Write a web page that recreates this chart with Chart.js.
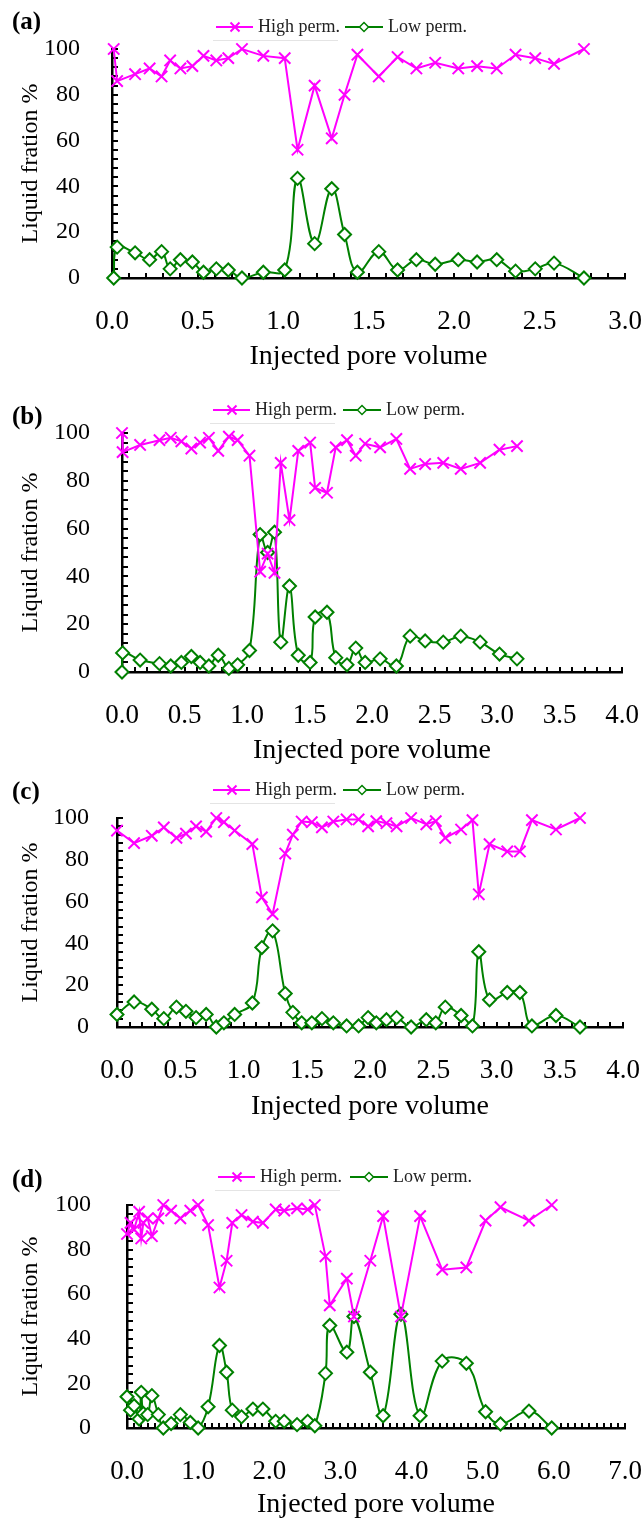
<!DOCTYPE html>
<html>
<head>
<meta charset="utf-8">
<title>Liquid fraction vs injected pore volume</title>
<script src="https://cdn.jsdelivr.net/npm/chart.js@4.4.1/dist/chart.umd.min.js"></script>
<style>
  body { margin: 0; background: #fff; }
  #wrap { position: relative; width: 641px; height: 1520px; overflow: hidden; }
  #wrap canvas { position: absolute; left: 0; }
</style>
</head>
<body>
<div id="wrap">
  <canvas id="cA"></canvas>
  <canvas id="cB"></canvas>
  <canvas id="cC"></canvas>
  <canvas id="cD"></canvas>
</div>
<script>
// --- data ---
const seriesNames = ['High perm.', 'Low perm.'];
const yTitle = 'Liquid fration %';
const xTitle = 'Injected pore volume';
const yTickLabels = [0, 20, 40, 60, 80, 100];

// (a)
const xA = [0.01, 0.03, 0.135, 0.22, 0.29, 0.34, 0.40, 0.47, 0.535, 0.61,
            0.68, 0.76, 0.885, 1.01, 1.085, 1.185, 1.285, 1.36, 1.435, 1.56,
            1.67, 1.78, 1.89, 2.025, 2.135, 2.25, 2.36, 2.475, 2.585, 2.76];
const highA = [100, 86, 89, 91.5, 88, 95, 91.5, 92.5, 97, 95,
               96, 100, 97, 96, 56, 84, 61, 80, 97.5, 88,
               96.5, 91.5, 94, 91.5, 92.5, 91.5, 97.5, 96, 93.5, 100];
const lowA = [0, 13.5, 11, 8, 11.5, 4, 8, 7, 2.5, 4,
              3.5, 0, 2.5, 3.5, 43.5, 15, 39, 19, 2.5, 11.5,
              3.5, 8, 6, 8, 7, 8, 3, 4, 6.5, 0];
const xTickLabelsA = [0, 0.5, 1, 1.5, 2, 2.5, 3];

// (b)
const xB = [0.0, 0.005, 0.145, 0.30, 0.39, 0.475, 0.555, 0.625, 0.695, 0.77,
            0.855, 0.925, 1.02, 1.105, 1.165, 1.22, 1.27, 1.34, 1.41, 1.505,
            1.545, 1.64, 1.71, 1.80, 1.87, 1.945, 2.065, 2.195, 2.305, 2.425,
            2.57, 2.71, 2.865, 3.02, 3.16];
const highB = [100, 92, 95, 97, 98, 96.5, 93.5, 96, 98, 92.5,
               98.5, 97, 90.5, 42, 49.5, 41.5, 87.5, 63.5, 92.5, 96,
               77, 75, 94, 97, 90.5, 95.5, 94, 97.5, 85, 87,
               87.5, 85, 87.5, 93, 94.5];
const lowB = [0, 8, 5, 3.5, 2.5, 4, 6.5, 4, 2.5, 7,
              1.5, 3, 9, 57.5, 50, 58.5, 12.5, 36, 7, 4,
              23, 25, 6, 3, 10, 4, 5.5, 2.5, 15, 13,
              12.5, 15, 12.5, 7.5, 5.5];
const xTickLabelsB = [0, 0.5, 1, 1.5, 2, 2.5, 3, 3.5, 4];

// (c)
const xC = [0.0, 0.135, 0.275, 0.37, 0.47, 0.545, 0.625, 0.705, 0.785, 0.845,
            0.93, 1.07, 1.145, 1.23, 1.33, 1.39, 1.46, 1.54, 1.62, 1.71,
            1.815, 1.91, 1.985, 2.05, 2.13, 2.21, 2.325, 2.445, 2.52, 2.595,
            2.72, 2.81, 2.86, 2.945, 3.085, 3.185, 3.28, 3.47, 3.66];
const highC = [94, 88, 91.5, 95.5, 90.5, 92.5, 96, 93.5, 100, 98,
               94, 87.5, 62, 54, 83, 92, 98.3, 98, 95.5, 98.3,
               99.3, 99.3, 96, 98.5, 97.5, 96, 100, 97, 98.5, 90.5,
               94.5, 99, 63.5, 87.5, 84, 84, 99, 94.5, 100];
const lowC = [6, 12, 8.5, 4, 9.5, 7.5, 4.5, 6, 0, 2,
              6, 11.5, 38, 46, 16, 7, 2, 2, 4, 2,
              0.5, 0.5, 4.5, 2, 3.5, 4.5, 0, 3.5, 2, 9.5,
              5.5, 0.5, 36, 13, 16.5, 16.5, 0.5, 5.5, 0];
const xTickLabelsC = [0, 0.5, 1, 1.5, 2, 2.5, 3, 3.5, 4];

// (d)
const xD = [0.00, 0.05, 0.10, 0.17, 0.20, 0.23, 0.29, 0.35, 0.44, 0.51,
            0.62, 0.75, 0.89, 1.00, 1.14, 1.30, 1.40, 1.48, 1.61, 1.77,
            1.91, 2.09, 2.21, 2.39, 2.54, 2.64, 2.79, 2.85, 3.09, 3.19,
            3.42, 3.60, 3.85, 4.12, 4.43, 4.77, 5.04, 5.25, 5.65, 5.97];
const highD = [87, 92, 89, 97, 85, 92, 94, 86, 94, 100,
               97.5, 94, 97.5, 100, 91, 63, 75, 92, 95.5, 92.5,
               92, 98, 97.5, 98.5, 98, 100, 77, 55, 67, 50,
               75, 95, 50, 95, 71, 72, 93, 99, 93, 100];
const lowD = [14, 8, 10, 4, 16, 6.5, 6, 14.5, 6, 0,
              2, 6, 2.5, 0, 9.5, 37, 25, 8, 5, 8.5,
              8.5, 3, 3, 1.5, 3, 1, 24.5, 46, 34, 50,
              25, 5.5, 51, 5.5, 30, 29, 7.3, 1.8, 7.6, 0];
const xTickLabelsD = [0, 1, 2, 3, 4, 5, 6, 7];

// --- styling ---
const MAGENTA = '#ff00ff';
const GREEN = '#008000';
const SERIF = '"Liberation Serif", "Times New Roman", serif';

// panel placement in page pixels
const panels = [
  { id: 'cA', tag: '(a)', x: xA, high: highA, low: lowA, xMax: 3, xStep: 0.1, xLabels: xTickLabelsA,
    top: 0, h: 400, l: 112, r: 625, t: 49, b: 278, yPad: 32, titleY: 357, tagY: 23, legY: 27, legX: [216, 345] },
  { id: 'cB', tag: '(b)', x: xB, high: highB, low: lowB, xMax: 4, xStep: 0.1, xLabels: xTickLabelsB,
    top: 380, h: 400, l: 122, r: 622, t: 433, b: 672, yPad: 32, titleY: 751, tagY: 418, legY: 410, legX: [213, 343] },
  { id: 'cC', tag: '(c)', x: xC, high: highC, low: lowC, xMax: 4, xStep: 0.1, xLabels: xTickLabelsC,
    top: 760, h: 390, l: 117, r: 623, t: 818, b: 1027, yPad: 28, titleY: 1107, tagY: 793, legY: 790, legX: [213, 343] },
  { id: 'cD', tag: '(d)', x: xD, high: highD, low: lowD, xMax: 7, xStep: 0.1, xLabels: xTickLabelsD,
    top: 1135, h: 385, l: 127, r: 625, t: 1205, b: 1428, yPad: 36, titleY: 1505, tagY: 1181, legY: 1177, legX: [218, 350] }
];

// tick marks pointing into the plot
const innerTicks = {
  id: 'innerTicks',
  beforeDatasetsDraw(chart) {
    const { ctx, chartArea: a, scales: { x, y } } = chart;
    ctx.save();
    ctx.strokeStyle = '#000';
    ctx.lineWidth = 2;
    ctx.beginPath();
    x.ticks.forEach(t => {
      const px = Math.round(x.getPixelForValue(t.value));
      ctx.moveTo(px, a.bottom);
      ctx.lineTo(px, a.bottom - 5);
    });
    y.ticks.forEach(t => {
      const py = Math.round(y.getPixelForValue(t.value));
      ctx.moveTo(a.left, py);
      ctx.lineTo(a.left + 6, py);
    });
    ctx.stroke();
    ctx.restore();
  }
};

// panel tag and legend
const panelDecor = {
  id: 'panelDecor',
  afterDraw(chart, args, o) {
    const ctx = chart.ctx;
    ctx.save();
    ctx.textBaseline = 'middle';
    ctx.fillStyle = '#000';
    ctx.font = 'bold 25px ' + SERIF;
    ctx.fillText(o.tag, 12, o.tagY);

    const y = o.legY;
    const [hx, lx] = o.legX;
    // faint frame line
    ctx.strokeStyle = '#e4e4e4';
    ctx.lineWidth = 1;
    ctx.beginPath();
    ctx.moveTo(hx - 3, y + 13.5);
    ctx.lineTo(hx + 122, y + 13.5);
    ctx.stroke();

    // high perm.
    ctx.strokeStyle = MAGENTA;
    ctx.lineWidth = 2;
    ctx.beginPath();
    ctx.moveTo(hx, y); ctx.lineTo(hx + 37, y);
    const cx = hx + 19;
    ctx.moveTo(cx - 4.5, y - 4.5); ctx.lineTo(cx + 4.5, y + 4.5);
    ctx.moveTo(cx - 4.5, y + 4.5); ctx.lineTo(cx + 4.5, y - 4.5);
    ctx.stroke();

    // low perm.
    ctx.strokeStyle = GREEN;
    ctx.beginPath();
    ctx.moveTo(lx, y); ctx.lineTo(lx + 38, y);
    ctx.stroke();
    const dx = lx + 19;
    ctx.beginPath();
    ctx.moveTo(dx - 4.5, y); ctx.lineTo(dx, y - 4.5);
    ctx.lineTo(dx + 4.5, y); ctx.lineTo(dx, y + 4.5);
    ctx.closePath();
    ctx.fillStyle = '#fff';
    ctx.fill();
    ctx.lineWidth = 1.5;
    ctx.stroke();

    ctx.fillStyle = '#222';
    ctx.font = '18px ' + SERIF;
    ctx.fillText(seriesNames[0], hx + 42, y);
    ctx.fillText(seriesNames[1], lx + 43, y);
    ctx.restore();
  }
};

function makeChart(p) {
  const cv = document.getElementById(p.id);
  cv.width = 641;
  cv.height = p.h;
  cv.style.top = p.top + 'px';
  const areaTop = p.t - p.top;
  const areaBottom = p.b - p.top;
  const xHeight = p.h - areaBottom;
  const titlePadBottom = (p.top + p.h) - p.titleY - 28 * 1.2 / 2;

  new Chart(cv, {
    type: 'line',
    data: {
      datasets: [
        {
          label: seriesNames[0],
          data: p.x.map((v, i) => ({ x: v, y: p.high[i] })),
          borderColor: MAGENTA,
          backgroundColor: MAGENTA,
          borderWidth: 2,
          pointStyle: 'crossRot',
          pointRadius: 8,
          pointBorderWidth: 2,
          pointBorderColor: MAGENTA,
          tension: 0,
          clip: false
        },
        {
          label: seriesNames[1],
          data: p.x.map((v, i) => ({ x: v, y: p.low[i] })),
          borderColor: GREEN,
          backgroundColor: '#fff',
          borderWidth: 2,
          pointStyle: 'rectRot',
          pointRadius: 6.5,
          pointBorderWidth: 2,
          pointBorderColor: GREEN,
          pointBackgroundColor: '#fff',
          tension: 0.4,
          clip: false
        }
      ]
    },
    options: {
      responsive: false,
      animation: false,
      devicePixelRatio: 1,
      layout: { padding: { left: 0, right: 641 - p.r, top: areaTop, bottom: 0 } },
      plugins: {
        legend: { display: false },
        tooltip: { enabled: false },
        panelDecor: { tag: p.tag, tagY: p.tagY - p.top, legY: p.legY - p.top, legX: p.legX }
      },
      scales: {
        x: {
          type: 'linear',
          min: 0,
          max: p.xMax,
          grid: { display: false, drawTicks: false },
          border: { display: true, color: '#000', width: 2.5 },
          ticks: {
            stepSize: p.xStep,
            autoSkip: false,
            maxRotation: 0,
            minRotation: 0,
            padding: 28,
            color: '#000',
            font: { family: SERIF, size: 27 },
            callback: v => p.xLabels.some(l => Math.abs(l - v) < 1e-6) ? v.toFixed(1) : ''
          },
          title: {
            display: true,
            text: xTitle,
            color: '#000',
            font: { family: SERIF, size: 28 },
            padding: { top: 0, bottom: titlePadBottom }
          },
          afterFit(s) {
            s.height = xHeight;
            s.paddingLeft = 0;
            s.paddingRight = 0;
          }
        },
        y: {
          min: 0,
          max: 100,
          grid: { display: false, drawTicks: false },
          border: { display: true, color: '#000', width: 2.5 },
          ticks: {
            stepSize: 4,
            autoSkip: false,
            padding: p.yPad,
            color: '#000',
            font: { family: SERIF, size: 24 },
            callback: v => yTickLabels.includes(v) ? String(v) : ''
          },
          title: {
            display: true,
            text: yTitle,
            color: '#000',
            font: { family: SERIF, size: 24 },
            padding: { top: 16, bottom: 0 }
          },
          afterFit(s) {
            s.width = p.l;
            s.paddingTop = 0;
            s.paddingBottom = 0;
          }
        }
      }
    },
    plugins: [innerTicks, panelDecor]
  });
}

panels.forEach(makeChart);
</script>
</body>
</html>
